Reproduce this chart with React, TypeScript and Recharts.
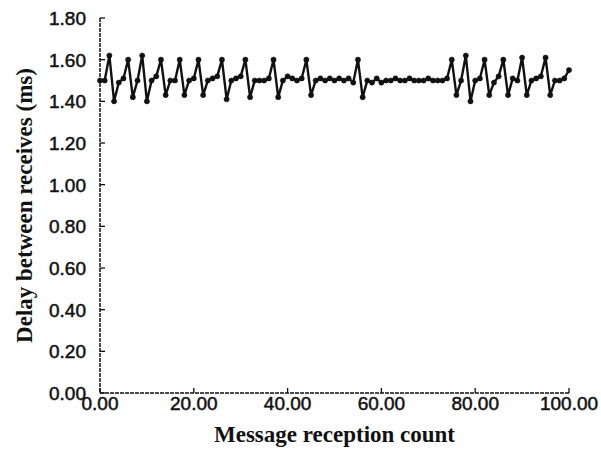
import React from 'react';
import { LineChart, Line, XAxis, YAxis } from 'recharts';

const receptionCounts = [
  0, 1, 2, 3, 4, 5, 6, 7, 8, 9,
  10, 11, 12, 13, 14, 15, 16, 17, 18, 19,
  20, 21, 22, 23, 24, 25, 26, 27, 28, 29,
  30, 31, 32, 33, 34, 35, 36, 37, 38, 39,
  40, 41, 42, 43, 44, 45, 46, 47, 48, 49,
  50, 51, 52, 53, 54, 55, 56, 57, 58, 59,
  60, 61, 62, 63, 64, 65, 66, 67, 68, 69,
  70, 71, 72, 73, 74, 75, 76, 77, 78, 79,
  80, 81, 82, 83, 84, 85, 86, 87, 88, 89,
  90, 91, 92, 93, 94, 95, 96, 97, 98, 99,
  100,
];

const delaysMs = [
  1.50, 1.50, 1.62, 1.40, 1.49, 1.51, 1.60, 1.42, 1.50, 1.62,
  1.40, 1.50, 1.52, 1.60, 1.43, 1.50, 1.50, 1.60, 1.43, 1.50,
  1.51, 1.60, 1.43, 1.50, 1.51, 1.52, 1.60, 1.41, 1.50, 1.51,
  1.52, 1.60, 1.42, 1.50, 1.50, 1.50, 1.51, 1.60, 1.42, 1.50,
  1.52, 1.51, 1.50, 1.51, 1.60, 1.43, 1.50, 1.51, 1.50, 1.51,
  1.50, 1.51, 1.50, 1.51, 1.49, 1.60, 1.42, 1.50, 1.49, 1.51,
  1.49, 1.50, 1.50, 1.51, 1.50, 1.50, 1.51, 1.50, 1.50, 1.50,
  1.51, 1.50, 1.50, 1.50, 1.51, 1.60, 1.43, 1.50, 1.62, 1.40,
  1.50, 1.51, 1.60, 1.43, 1.49, 1.52, 1.60, 1.43, 1.51, 1.50,
  1.61, 1.43, 1.50, 1.51, 1.52, 1.61, 1.43, 1.50, 1.50, 1.51,
  1.55,
];

const xTicks = [0, 20, 40, 60, 80, 100];
const xTickLabels = ['0.00', '20.00', '40.00', '60.00', '80.00', '100.00'];
const yTicks = [0, 0.2, 0.4, 0.6, 0.8, 1.0, 1.2, 1.4, 1.6, 1.8];
const yTickLabels = ['0.00', '0.20', '0.40', '0.60', '0.80', '1.00', '1.20', '1.40', '1.60', '1.80'];

const xTitle = 'Message reception count';
const yTitle = 'Delay between receives (ms)';

const data = receptionCounts.map((c, i) => ({ count: c, delay: delaysMs[i] }));

const INK = '#111';
const TICK_FONT = '"Liberation Sans", Arial, sans-serif';
const TITLE_FONT = '"Liberation Serif", "Times New Roman", serif';
const FRAME_DASH = '4 1';

const LeftTick = (props: any) => {
  const { x, y, index } = props;
  return (
    <g>
      <line x1={x} x2={x + 5} y1={y} y2={y} stroke={INK} strokeWidth={1.3} />
      <text
        x={x - 14}
        y={y}
        dy="0.36em"
        textAnchor="end"
        fontFamily={TICK_FONT}
        fontSize={19}
        fill={INK}
        stroke={INK}
        strokeWidth={0.5}
      >
        {yTickLabels[index]}
      </text>
    </g>
  );
};

const BottomTick = (props: any) => {
  const { x, y, index } = props;
  return (
    <g>
      <line x1={x} x2={x} y1={y} y2={y - 5} stroke={INK} strokeWidth={1.3} />
      <text
        x={x}
        y={y + 17}
        textAnchor="middle"
        fontFamily={TICK_FONT}
        fontSize={19}
        fill={INK}
        stroke={INK}
        strokeWidth={0.5}
      >
        {xTickLabels[index]}
      </text>
    </g>
  );
};

const RightTick = (props: any) => {
  const { x, y } = props;
  return <line x1={x} x2={x - 5} y1={y} y2={y} stroke={INK} strokeWidth={1.3} />;
};

const TopTick = (props: any) => {
  const { x, y } = props;
  return <line x1={x} x2={x} y1={y} y2={y + 5} stroke={INK} strokeWidth={1.3} />;
};

const XTitle = (props: any) => {
  const vb = props.viewBox || {};
  return (
    <text
      x={vb.x + vb.width / 2}
      y={vb.y + 49}
      textAnchor="middle"
      fontFamily={TITLE_FONT}
      fontWeight="bold"
      fontSize={23}
      fill={INK}
    >
      {xTitle}
    </text>
  );
};

const YTitle = (props: any) => {
  const vb = props.viewBox || {};
  const cx = vb.x + 24;
  const cy = vb.y + vb.height / 2;
  return (
    <text
      x={cx}
      y={cy}
      transform={`rotate(-90, ${cx}, ${cy})`}
      textAnchor="middle"
      dominantBaseline="central"
      fontFamily={TITLE_FONT}
      fontWeight="bold"
      fontSize={23}
      fill={INK}
    >
      {yTitle}
    </text>
  );
};

export default function App() {
  return (
    <div
      style={{
        position: 'fixed',
        left: 0,
        top: 0,
        width: 601,
        height: 449,
        background: '#fff',
        overflow: 'hidden',
      }}
    >
      <LineChart
        width={601}
        height={449}
        data={data}
        margin={{ top: 18, right: 32, bottom: 0, left: 0 }}
      >
        <XAxis
          xAxisId="b"
          dataKey="count"
          type="number"
          domain={[0, 100]}
          ticks={xTicks}
          interval={0}
          height={56}
          tickSize={0}
          tickMargin={0}
          tickLine={false}
          tick={<BottomTick />}
          axisLine={{ stroke: INK, strokeWidth: 1.5, strokeDasharray: FRAME_DASH }}
          label={{ content: XTitle }}
        />
        <XAxis
          xAxisId="t"
          orientation="top"
          dataKey="count"
          type="number"
          domain={[0, 100]}
          ticks={xTicks}
          interval={0}
          height={0}
          tickSize={0}
          tickMargin={0}
          tickLine={false}
          tick={<TopTick />}
          axisLine={{ stroke: INK, strokeWidth: 1.3, strokeDasharray: '2 1' }}
        />
        <YAxis
          yAxisId="l"
          type="number"
          domain={[0, 1.8]}
          ticks={yTicks}
          interval={0}
          width={100}
          tickSize={0}
          tickMargin={0}
          tickLine={false}
          tick={<LeftTick />}
          axisLine={{ stroke: INK, strokeWidth: 1.5, strokeDasharray: FRAME_DASH }}
          label={{ content: YTitle }}
        />
        <YAxis
          yAxisId="r"
          orientation="right"
          type="number"
          domain={[0, 1.8]}
          ticks={yTicks}
          interval={0}
          width={0}
          tickSize={0}
          tickMargin={0}
          tickLine={false}
          tick={<RightTick />}
          axisLine={{ stroke: INK, strokeWidth: 1.5 }}
        />
        <Line
          xAxisId="b"
          yAxisId="l"
          type="linear"
          dataKey="delay"
          stroke={INK}
          strokeWidth={2.4}
          dot={{ r: 2.6, fill: INK, stroke: INK, strokeWidth: 0.5 }}
          isAnimationActive={false}
        />
      </LineChart>
    </div>
  );
}
